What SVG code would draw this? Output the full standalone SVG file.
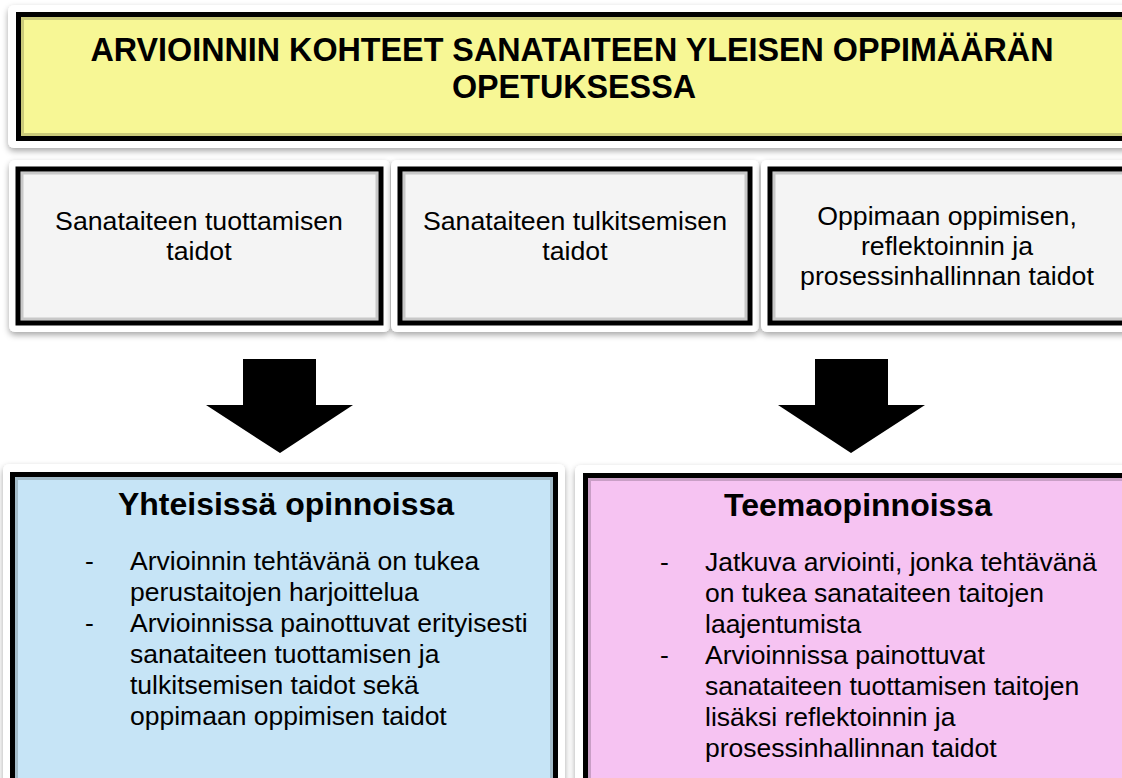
<svg xmlns="http://www.w3.org/2000/svg" width="1122" height="778" viewBox="0 0 1122 778">
<defs>
<filter id="sh" x="-5%" y="-10%" width="110%" height="125%">
<feDropShadow dx="0" dy="3" stdDeviation="3" flood-color="#000" flood-opacity="0.35"/>
</filter>
<style>
.frame{fill:#fff;filter:url(#sh)}
.box{stroke:#000;stroke-width:5}
.bevel{fill:none;stroke:#000;stroke-opacity:0.18;stroke-width:3}
.t{font-family:"Liberation Sans",Arial,sans-serif;fill:#000}
.title{font-size:32.3px;font-weight:bold;text-anchor:middle}
.mid{font-size:26.7px;text-anchor:middle}
.head{font-size:32px;font-weight:bold;text-anchor:middle}
.body{font-size:26.5px}
</style>
</defs>
<rect width="1122" height="778" fill="#fff"/>
<g id="title">
<rect class="frame" x="8" y="5" width="1122" height="143" rx="6"/>
<rect class="box" x="18.5" y="14.5" width="1110" height="124" fill="#F7F795"/>
<rect class="bevel" x="22.5" y="18.5" width="1110" height="116"/>
<text class="t title" x="572" y="61">ARVIOINNIN KOHTEET SANATAITEEN YLEISEN OPPIMÄÄRÄN</text>
<text class="t title" x="574" y="98">OPETUKSESSA</text>
</g>
<g id="box1">
<rect class="frame" x="9" y="160" width="381" height="172" rx="6"/>
<rect class="box" x="18" y="169" width="363" height="154" fill="#F4F4F4"/>
<rect class="bevel" x="22" y="173" width="355" height="146"/>
<text class="t mid" x="199" y="230">Sanataiteen tuottamisen</text>
<text class="t mid" x="199" y="260">taidot</text>
</g>
<g id="box2">
<rect class="frame" x="391" y="160" width="368" height="172" rx="6"/>
<rect class="box" x="400" y="169" width="350" height="154" fill="#F4F4F4"/>
<rect class="bevel" x="404" y="173" width="342" height="146"/>
<text class="t mid" x="575" y="230">Sanataiteen tulkitsemisen</text>
<text class="t mid" x="575" y="260">taidot</text>
</g>
<g id="box3">
<rect class="frame" x="761" y="160" width="370" height="172" rx="6"/>
<rect class="box" x="770" y="169" width="360" height="154" fill="#F4F4F4"/>
<rect class="bevel" x="774" y="173" width="352" height="146"/>
<text class="t mid" x="947" y="225">Oppimaan oppimisen,</text>
<text class="t mid" x="947" y="255">reflektoinnin ja</text>
<text class="t mid" x="947" y="285">prosessinhallinnan taidot</text>
</g>
<g id="connectors">
<polygon points="243,359 316,359 316,405 353,405 280,453 206,405 243,405" fill="#000"/>
<polygon points="815,359 888,359 888,405 925,405 851,453 778,405 815,405" fill="#000"/>
</g>
<g id="common">
<rect class="frame" x="3" y="464" width="562" height="330" rx="6"/>
<rect class="box" x="12.5" y="474.5" width="543" height="320" fill="#C6E4F6"/>
<rect class="bevel" x="16.5" y="478.5" width="535" height="320"/>
<text class="t head" x="286" y="515">Yhteisissä opinnoissa</text>
<text class="t body" x="85" y="570">-</text>
<text class="t body" x="130" y="570">Arvioinnin tehtävänä on tukea</text>
<text class="t body" x="130" y="601">perustaitojen harjoittelua</text>
<text class="t body" x="85" y="632">-</text>
<text class="t body" x="130" y="632">Arvioinnissa painottuvat erityisesti</text>
<text class="t body" x="130" y="663">sanataiteen tuottamisen ja</text>
<text class="t body" x="130" y="694">tulkitsemisen taidot sekä</text>
<text class="t body" x="130" y="725">oppimaan oppimisen taidot</text>
</g>
<g id="theme">
<rect class="frame" x="575" y="465" width="560" height="330" rx="6"/>
<rect class="box" x="585.5" y="475.5" width="545" height="320" fill="#F6C3F2"/>
<rect class="bevel" x="589.5" y="479.5" width="537" height="320"/>
<text class="t head" x="858" y="516">Teemaopinnoissa</text>
<text class="t body" x="660" y="571">-</text>
<text class="t body" x="705" y="571">Jatkuva arviointi, jonka tehtävänä</text>
<text class="t body" x="705" y="602">on tukea sanataiteen taitojen</text>
<text class="t body" x="705" y="633">laajentumista</text>
<text class="t body" x="660" y="664">-</text>
<text class="t body" x="705" y="664">Arvioinnissa painottuvat</text>
<text class="t body" x="705" y="695">sanataiteen tuottamisen taitojen</text>
<text class="t body" x="705" y="726">lisäksi reflektoinnin ja</text>
<text class="t body" x="705" y="757">prosessinhallinnan taidot</text>
</g>
</svg>
